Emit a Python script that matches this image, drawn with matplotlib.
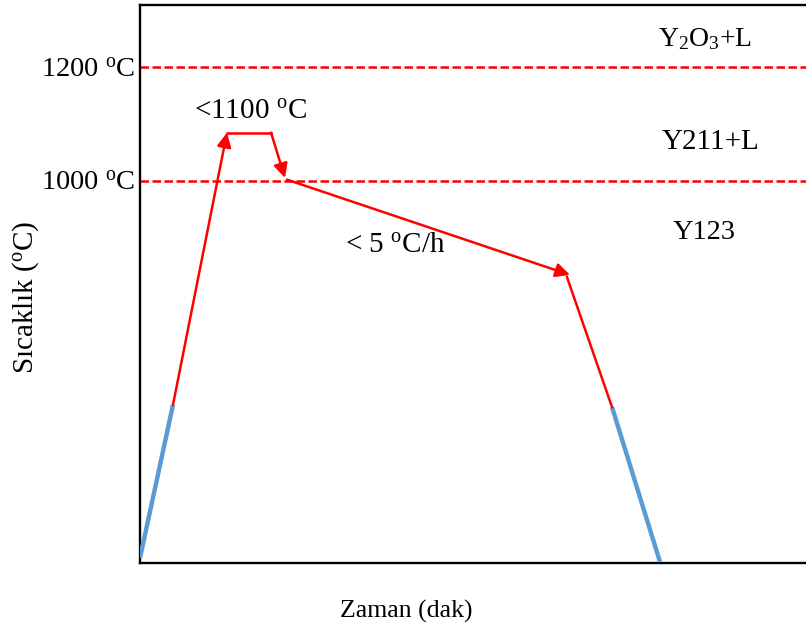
import matplotlib.pyplot as plt
from matplotlib.patches import FancyArrowPatch

plt.rcParams['font.family'] = ['Liberation Serif', 'DejaVu Serif']
plt.rcParams['mathtext.fontset'] = 'custom'
plt.rcParams['mathtext.rm'] = 'Liberation Serif'
plt.rcParams['mathtext.it'] = 'Liberation Serif:italic'

# schematic heat-treatment profile (time in arbitrary units, temperature in C)
time = [0, 33, 87, 131, 145, 147, 430, 427, 472, 520]
temp = [335, 605, 1085, 1085, 1005, 1002, 834, 830, 601, 328]

phase_lines = [1000, 1200]
phase_labels = ['1000 $^{\\mathrm{o}}$C', '1200 $^{\\mathrm{o}}$C']

red = '#FF0000'
blue = '#5B9BD5'

fig = plt.figure(figsize=(8.06, 6.37), dpi=100)
ax = fig.add_axes([140/806, 74/637, 666/806, 558/637])
ax.set_xlim(0, 666)
ax.set_ylim(326, 1310)

for s in ['left', 'top', 'bottom']:
    ax.spines[s].set_linewidth(1.7)
    ax.spines[s].set_color('black')
ax.spines['right'].set_visible(False)

ax.set_xticks([])
ax.set_yticks(phase_lines)
ax.set_yticklabels(phase_labels, fontsize=20.5)
ax.tick_params(axis='y', length=0, pad=3)

for yv in phase_lines:
    ax.axhline(yv, color=red, lw=1.8, ls=(0, (3.4, 1.4)), zorder=1)

# blue segments
ax.plot(time[0:2], temp[0:2], color=blue, lw=3.2, solid_capstyle='butt', zorder=3)
ax.plot(time[8:10], temp[8:10], color=blue, lw=3.2, solid_capstyle='butt', zorder=3)

# red plain segments
ax.plot(time[2:4], temp[2:4], color=red, lw=1.8, zorder=3)
ax.plot(time[7:9], temp[7:9], color=red, lw=1.8, zorder=3)


def arrow(i, j):
    a = FancyArrowPatch((time[i], temp[i]), (time[j], temp[j]),
                        arrowstyle='-|>,head_length=0.85,head_width=0.42',
                        mutation_scale=10, color=red, lw=1.8,
                        shrinkA=0, shrinkB=0, zorder=4)
    ax.add_patch(a)


arrow(1, 2)
arrow(3, 4)
arrow(5, 6)

ax.text(110, 1122, '<1100 $^{\\mathrm{o}}$C', fontsize=21, ha='center', va='center')
ax.text(255, 887, '< 5 $^{\\mathrm{o}}$C/h', fontsize=21, ha='center', va='center')
ax.text(565, 1249, 'Y$_{2}$O$_{3}$+L', fontsize=20, ha='center', va='center')
ax.text(571, 1069, 'Y211+L', fontsize=21, ha='center', va='center')
ax.text(564, 908, 'Y123', fontsize=20.5, ha='center', va='center')

fig.text(406/806, 1 - 611/637, 'Zaman (dak)', fontsize=18.5, ha='center', va='center')
fig.text(26/806, 1 - 297/637, 'Sıcaklık ($^{\\mathrm{o}}$C)', fontsize=21,
         ha='center', va='center', rotation=90)

fig.savefig('out.png', dpi=100)
